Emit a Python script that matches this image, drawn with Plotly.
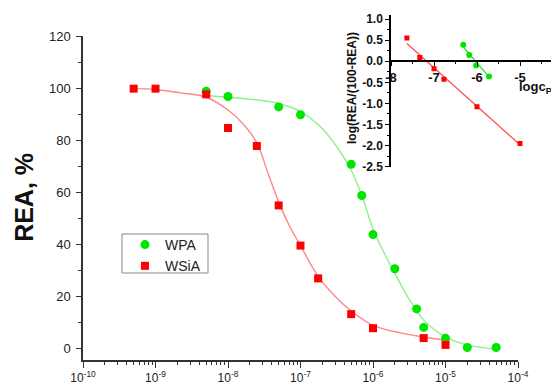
import plotly.graph_objects as go

# ---------------- data (main plot) ----------------
wpa_conc = [5e-9, 1e-8, 5e-8, 1e-7, 5e-7, 7e-7, 1e-6, 2e-6, 4e-6, 5e-6, 1e-5, 2e-5, 5e-5]
wpa_rea = [98.8, 96.8, 92.8, 89.8, 70.8, 58.8, 43.8, 30.7, 15.3, 8.2, 4.0, 0.5, 0.5]

wsia_conc = [5e-10, 1e-9, 5e-9, 1e-8, 2.5e-8, 5e-8, 1e-7, 1.75e-7, 5e-7, 1e-6, 5e-6, 1e-5]
wsia_rea = [99.8, 99.8, 97.6, 84.7, 77.8, 55.0, 39.6, 27.0, 13.3, 7.9, 4.1, 1.5]

# fitted curves (knots, log10 concentration)
wpa_fit_logc = [-8.30, -8.0, -7.6, -7.29, -7.0, -6.7, -6.45, -6.3, -6.15, -6.0, -5.85, -5.7, -5.5, -5.3, -5.0, -4.7, -4.3]
wpa_fit_rea = [97.2, 96.5, 95.5, 94.0, 91.0, 84.5, 75.5, 68.5, 58.5, 46.0, 37.0, 29.0, 19.0, 11.0, 4.6, 1.5, -0.2]

wsia_fit_logc = [-9.30, -9.0, -8.66, -8.3, -8.0, -7.8, -7.6, -7.45, -7.29, -7.15, -7.0, -6.75, -6.5, -6.3, -6.0, -5.6, -5.3, -5.0]
wsia_fit_rea = [99.8, 99.5, 98.2, 96.5, 91.6, 86.5, 78.9, 67.5, 55.5, 47.0, 39.6, 27.5, 19.5, 14.5, 9.0, 6.0, 4.5, 3.2]

# ---------------- data (inset) ----------------
ins_wsia_logc = [-7.63, -7.33, -7.0, -6.77, -6.0, -5.0]
ins_wsia_val = [0.55, 0.09, -0.18, -0.43, -1.08, -1.95]
ins_wsia_fit_logc = [-7.63, -5.0]
ins_wsia_fit_val = [0.42, -1.98]

ins_wpa_logc = [-6.32, -6.18, -6.02, -5.72]
ins_wpa_val = [0.39, 0.15, -0.10, -0.36]
ins_wpa_fit_logc = [-6.34, -5.72]
ins_wpa_fit_val = [0.36, -0.37]

x_tick_exps = [-10, -9, -8, -7, -6, -5, -4]
y_ticks = [0, 20, 40, 60, 80, 100, 120]
ins_x_ticks = [-8, -7, -6, -5]
ins_y_ticks = [1.0, 0.5, 0.0, -0.5, -1.0, -1.5, -2.0, -2.5]

# ---------------- layout geometry (screen pixels; page body adds 8px offset) ----------------
OFF = 8
W, H = 559 - OFF, 385 - OFF
ML, MR, MT, MB = 83 - OFF, 0, 0, 25
PW, PH = W - ML - MR, H - MT - MB


def px_x(p):
    return (p - OFF - ML) / PW


def px_y(p):
    return (H - MB - (p - OFF)) / PH


FONT = "Arial, Liberation Sans, sans-serif"
GREEN = "rgb(0,228,0)"
RED = "rgb(255,0,0)"

fig = go.Figure()

# main curves
fig.add_trace(go.Scatter(x=[10 ** v for v in wpa_fit_logc], y=wpa_fit_rea, mode="lines",
                         line=dict(color="rgb(140,240,140)", width=1.4, shape="spline", smoothing=1.0),
                         showlegend=False, hoverinfo="skip", xaxis="x", yaxis="y"))
fig.add_trace(go.Scatter(x=[10 ** v for v in wsia_fit_logc], y=wsia_fit_rea, mode="lines",
                         line=dict(color="rgb(255,135,135)", width=1.4, shape="spline", smoothing=1.0),
                         showlegend=False, hoverinfo="skip", xaxis="x", yaxis="y"))
# main markers
fig.add_trace(go.Scatter(x=wpa_conc, y=wpa_rea, mode="markers", name="WPA",
                         marker=dict(symbol="circle", size=9, color=GREEN, line=dict(width=0)),
                         xaxis="x", yaxis="y"))
fig.add_trace(go.Scatter(x=wsia_conc, y=wsia_rea, mode="markers", name="WSiA",
                         marker=dict(symbol="square", size=8, color=RED, line=dict(width=0)),
                         xaxis="x", yaxis="y"))

# inset
fig.add_trace(go.Scatter(x=ins_wsia_fit_logc, y=ins_wsia_fit_val, mode="lines",
                         line=dict(color="rgb(255,80,80)", width=1.3), showlegend=False,
                         xaxis="x2", yaxis="y2"))
fig.add_trace(go.Scatter(x=ins_wpa_fit_logc, y=ins_wpa_fit_val, mode="lines",
                         line=dict(color="rgb(50,220,50)", width=1.3), showlegend=False,
                         xaxis="x2", yaxis="y2"))
fig.add_trace(go.Scatter(x=ins_wsia_logc, y=ins_wsia_val, mode="markers",
                         marker=dict(symbol="square", size=5, color=RED), showlegend=False,
                         xaxis="x2", yaxis="y2"))
fig.add_trace(go.Scatter(x=ins_wpa_logc, y=ins_wpa_val, mode="markers",
                         marker=dict(symbol="circle", size=6, color=GREEN), showlegend=False,
                         xaxis="x2", yaxis="y2"))

# axes geometry
x_minor = [m * 10.0 ** e for e in x_tick_exps[:-1] for m in range(2, 10)]
main_x_dom = [0, px_x(518)]
main_y_dom = [0, px_y(36)]

ins_x_rng = [-8, -8 + 168 / 43.0]
ins_x_dom = [px_x(391), 1.0]
ins_y_rng = [-2.5, 1.1]
ins_y_dom = [px_y(166.7), px_y(14.8)]
ins_x_pos = ins_y_dom[0] + (0 - ins_y_rng[0]) / (ins_y_rng[1] - ins_y_rng[0]) * (ins_y_dom[1] - ins_y_dom[0])
ins_px_per_y = (166.7 - 14.8) / (ins_y_rng[1] - ins_y_rng[0])
ins_zero_px = 166.7 - (0 - ins_y_rng[0]) * ins_px_per_y


def ins_val(p):
    return (ins_zero_px - p) / ins_px_per_y


axis_col = "#333333"

fig.update_layout(
    width=W, height=H,
    margin=dict(l=ML, r=MR, t=MT, b=MB, pad=0, autoexpand=False),
    paper_bgcolor="white", plot_bgcolor="rgba(0,0,0,0)",
    font=dict(family=FONT, color="#222222"),
    xaxis=dict(type="log", domain=main_x_dom, range=[-10, -4], anchor="y",
               showline=True, linecolor=axis_col, linewidth=1.5, mirror=False,
               showgrid=False, zeroline=False, automargin=False,
               ticks="outside", ticklen=6, tickwidth=1.2, tickcolor=axis_col,
               tickmode="array", tickvals=[10.0 ** e for e in x_tick_exps],
               ticktext=["10<sup>%d</sup>" % e for e in x_tick_exps],
               tickfont=dict(size=12, color="#222222"),
               minor=dict(tickmode="array", tickvals=x_minor, ticks="outside", ticklen=3,
                          tickwidth=1, tickcolor=axis_col)),
    yaxis=dict(domain=main_y_dom, range=[-4.3, 120], anchor="x",
               showline=True, linecolor=axis_col, linewidth=1.5,
               showgrid=False, zeroline=False, automargin=False,
               ticks="outside", ticklen=5, tickwidth=1.2, tickcolor=axis_col,
               tickmode="array", tickvals=y_ticks, ticktext=[str(v) for v in y_ticks],
               tickfont=dict(size=13, color="#222222"), ticklabelstandoff=3,
               minor=dict(dtick=10, ticks="outside", ticklen=3, tickwidth=1, tickcolor=axis_col)),
    xaxis2=dict(domain=ins_x_dom, range=ins_x_rng, anchor="free", position=ins_x_pos,
                showline=True, linecolor="black", linewidth=1.5,
                showgrid=False, zeroline=False, automargin=False,
                ticks="outside", ticklen=4, tickwidth=1.2, tickcolor="black",
                tickmode="array", tickvals=ins_x_ticks, ticktext=[str(v) for v in ins_x_ticks],
                tickfont=dict(size=13, color="#111111", weight="bold"),
                minor=dict(dtick=0.5, ticks="outside", ticklen=2, tickwidth=1, tickcolor="black")),
    yaxis2=dict(domain=ins_y_dom, range=ins_y_rng, anchor="x2",
                showline=True, linecolor="black", linewidth=1.5,
                showgrid=False, zeroline=False, automargin=False,
                ticks="outside", ticklen=4, tickwidth=1.2, tickcolor="black",
                tickmode="array", tickvals=ins_y_ticks, ticktext=["%.1f" % v for v in ins_y_ticks],
                tickfont=dict(size=12, color="#111111", weight="bold"),
                minor=dict(dtick=0.25, ticks="outside", ticklen=2, tickwidth=1, tickcolor="black")),
    legend=dict(x=px_x(125), y=px_y(229), xanchor="left", yanchor="top",
                bgcolor="rgba(0,0,0,0)", borderwidth=0,
                font=dict(size=14, color="#222222"), itemwidth=30, tracegroupgap=0),
    showlegend=True,
)

# legend frame
fig.add_shape(type="rect", xref="paper", yref="paper",
              x0=px_x(122), x1=px_x(208), y0=px_y(273), y1=px_y(234),
              line=dict(color="#888888", width=1), fillcolor="white", layer="below")

fig.add_annotation(text="<b>REA, %</b>", textangle=-90, xref="paper", yref="y",
                   x=px_x(24), y=(349 - 198) / 2.608, xanchor="center", yanchor="middle",
                   showarrow=False, font=dict(size=25, color="#111111"))
fig.add_annotation(text="<b>log(REA/(100-REA))</b>", textangle=-90, xref="paper", yref="y2",
                   x=px_x(352), y=ins_val(88), xanchor="center", yanchor="middle",
                   showarrow=False, font=dict(size=12, color="#111111"))
fig.add_annotation(text="<b>logc<sub>POM</sub></b>", xref="x2", yref="y2",
                   x=ins_x_rng[0] + (517 - 391) / 43.0, y=ins_val(87), xanchor="left", yanchor="middle",
                   showarrow=False, font=dict(size=13, color="#111111"))
fig.add_annotation(text="<b>-4</b>", xref="x2", yref="y2",
                   x=ins_x_rng[1] - 0.01, y=ins_val(73), xanchor="left", yanchor="middle", xshift=-1,
                   showarrow=False, font=dict(size=13, color="#111111"))

fig.write_html("out.html")
